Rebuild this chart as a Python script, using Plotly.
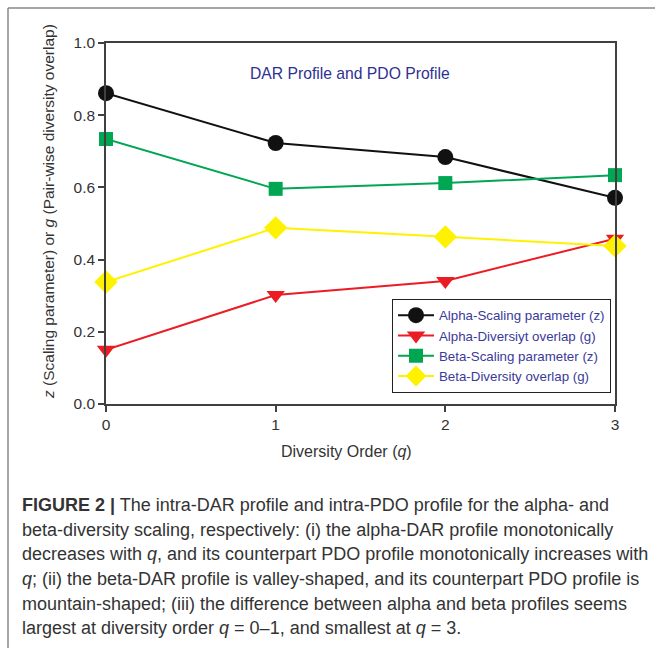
import plotly.graph_objects as go

# ---- data ----
diversity_order = [0, 1, 2, 3]
alpha_scaling_z = [0.861, 0.723, 0.684, 0.571]
alpha_overlap_g = [0.150, 0.302, 0.341, 0.458]
beta_scaling_z = [0.734, 0.596, 0.612, 0.634]
beta_overlap_g = [0.338, 0.488, 0.463, 0.438]
x_ticks = [0, 1, 2, 3]
y_ticks = [0.0, 0.2, 0.4, 0.6, 0.8, 1.0]
y_tick_labels = ["0.0", "0.2", "0.4", "0.6", "0.8", "1.0"]

series_names = [
    "Alpha-Scaling parameter (z)",
    "Alpha-Diversiyt overlap (g)",
    "Beta-Scaling parameter (z)",
    "Beta-Diversity overlap (g)",
]

caption_lines = [
    "<b>FIGURE 2 |</b> The intra-DAR profile and intra-PDO profile for the alpha- and",
    "beta-diversity scaling, respectively: (i) the alpha-DAR profile monotonically",
    "decreases with <i>q</i>, and its counterpart PDO profile monotonically increases with",
    "<i>q</i>; (ii) the beta-DAR profile is valley-shaped, and its counterpart PDO profile is",
    "mountain-shaped; (iii) the difference between alpha and beta profiles seems",
    "largest at diversity order <i>q</i> = 0–1, and smallest at <i>q</i> = 3.",
]

# ---- layout geometry (pixels) ----
W, H = 655, 648
L, R, T, B = 106, 615, 43, 404


def px(x):
    return (x - L) / (R - L)


def py(y):
    return (B - y) / (B - T)


fig = go.Figure()

styles = [
    dict(color="#111111", symbol="circle", size=16),
    dict(color="#ec1c24", symbol="triangle-down", size=16),
    dict(color="#00a651", symbol="square", size=14),
    dict(color="#fff200", symbol="diamond", size=18),
]
series = [alpha_scaling_z, alpha_overlap_g, beta_scaling_z, beta_overlap_g]
for name, vals, st in zip(series_names, series, styles):
    fig.add_trace(go.Scatter(
        x=diversity_order, y=vals, name=name, mode="lines+markers",
        line=dict(color=st["color"], width=2),
        marker=dict(color=st["color"], symbol=st["symbol"], size=st["size"],
                    line=dict(width=0)),
        cliponaxis=False,
    ))

axis_col = "#404040"
txt_col = "#333333"
font_fam = "Liberation Sans, Arial, sans-serif"

fig.update_layout(
    width=W, height=H,
    margin=dict(l=L, r=W - R, t=T, b=H - B),
    paper_bgcolor="white", plot_bgcolor="white",
    font=dict(family=font_fam, color=txt_col, size=15),
    showlegend=True,
    legend=dict(
        x=px(392), y=py(299), xanchor="left", yanchor="top",
        bgcolor="white", bordercolor="#222222", borderwidth=1,
        font=dict(size=13.3, color="#3a3a9a", family=font_fam),
        traceorder="normal", itemwidth=36,
    ),
    xaxis=dict(
        range=[0, 3], tickvals=x_ticks, ticktext=[str(v) for v in x_ticks],
        showgrid=False, zeroline=False, showline=True, linecolor=axis_col,
        linewidth=1.5, mirror=True, ticks="outside", ticklen=6,
        tickcolor=axis_col, tickwidth=1.5,
        tickfont=dict(size=15.5, color=txt_col),
    ),
    yaxis=dict(
        range=[0, 1], tickvals=y_ticks, ticktext=y_tick_labels,
        showgrid=False, zeroline=False, showline=True, linecolor=axis_col,
        linewidth=1.5, mirror=True, ticks="outside", ticklen=6,
        tickcolor=axis_col, tickwidth=1.5,
        tickfont=dict(size=15.5, color=txt_col),
    ),
)

annotations = [
    dict(text="DAR Profile and PDO Profile", x=px(350), y=py(74),
         xanchor="center", yanchor="middle",
         xref="paper", yref="paper", showarrow=False,
         font=dict(size=15.7, color="#2e3192")),
    dict(text="Diversity Order (<i>q</i>)", x=px(346), y=py(451),
         xanchor="center", yanchor="middle",
         xref="paper", yref="paper", showarrow=False,
         font=dict(size=16, color=txt_col)),
    dict(text="<i>z</i> (Scaling parameter) or <i>g</i> (Pair-wise diversity overlap)",
         x=px(48), y=py(212), xanchor="center", yanchor="middle",
         xref="paper", yref="paper", showarrow=False,
         textangle=-90, font=dict(size=15.5, color=txt_col)),
]
line_y = [505, 530, 554, 579, 604, 628]
for t, yy in zip(caption_lines, line_y):
    annotations.append(dict(
        text=t, x=px(20), y=py(yy), xref="paper", yref="paper",
        xanchor="left", yanchor="middle", showarrow=False,
        font=dict(size=18, color="#333333",
                  family="Liberation Sans Narrow, Arial Narrow, sans-serif"),
    ))
fig.update_layout(annotations=annotations)

# figure frame (top and left border)
fig.add_shape(type="line", xref="paper", yref="paper",
              x0=px(8), x1=px(W + 5), y0=py(8), y1=py(8),
              line=dict(color="#888888", width=1.5))
fig.add_shape(type="line", xref="paper", yref="paper",
              x0=px(8), x1=px(8), y0=py(8), y1=py(H + 5),
              line=dict(color="#888888", width=1.5))

fig.write_html("out.html", config={"displayModeBar": False},
               post_script="document.body.style.margin='0';")
